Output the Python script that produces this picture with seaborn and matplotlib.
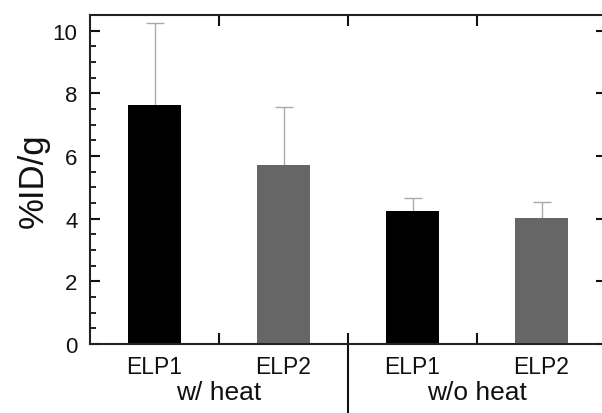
import matplotlib
matplotlib.use("Agg")
import matplotlib.pyplot as plt
import matplotlib.transforms as mtransforms
from matplotlib.ticker import MultipleLocator, FixedLocator, NullFormatter
import seaborn as sns
import pandas as pd

# Data
conditions = ["w/ heat", "w/ heat", "w/o heat", "w/o heat"]
polymers = ["ELP1", "ELP2", "ELP1", "ELP2"]
values = [7.62, 5.70, 4.25, 4.03]
errors = [2.62, 1.87, 0.42, 0.50]
group_labels = ["w/ heat", "w/o heat"]

sns.set_style("ticks")
plt.rcParams["font.family"] = ["Liberation Sans", "DejaVu Sans"]

keys = [f"{p} {c}" for p, c in zip(polymers, conditions)]
df = pd.DataFrame({"key": keys, "value": values})
bar_colors = ["#000000", "#666666", "#000000", "#666666"]

fig = plt.figure(figsize=(6.02, 4.14), dpi=100)
ax = fig.add_axes([90 / 602, 69 / 414, 516 / 602, 329 / 414])

sns.barplot(data=df, x="key", y="value", order=keys, hue="key", hue_order=keys,
            palette=bar_colors, width=0.41, errorbar=None, legend=False,
            saturation=1, ax=ax, edgecolor="none")
for p in ax.patches:
    p.set_zorder(2)

xpos = list(range(len(values)))
eb = ax.errorbar(xpos, values, yerr=[[0] * len(errors), errors], fmt="none",
                 ecolor="#aaaaaa", elinewidth=1.0, capsize=6.5, capthick=1.0,
                 zorder=1)
# hide the lower caps (only upper error shown)
caplines = eb[1]
if len(caplines) == 2:
    caplines[0].set_visible(False)

ax.set_xlim(-0.5, 3.5)
ax.set_ylim(0, 10.5)

# y ticks
ax.yaxis.set_major_locator(FixedLocator([0, 2, 4, 6, 8, 10]))
ax.yaxis.set_minor_locator(MultipleLocator(0.5))
ax.tick_params(axis="y", which="major", direction="in", length=7.5, width=1.5,
               labelsize=16, pad=9, left=True, right=True, colors="#111111")
ax.tick_params(axis="y", which="minor", direction="in", length=4.5, width=1.3,
               left=True, right=False, colors="#111111")

# x ticks: separators as major ticks, labels on minor ticks
ax.xaxis.set_major_locator(FixedLocator([0.5, 1.5, 2.5]))
ax.xaxis.set_major_formatter(NullFormatter())
ax.xaxis.set_minor_locator(FixedLocator(xpos))
ax.set_xticklabels(polymers, minor=True)
ax.tick_params(axis="x", which="major", direction="in", length=8, width=1.5,
               top=True, bottom=True, colors="#111111")
ax.tick_params(axis="x", which="minor", length=0, labelsize=16.5, pad=8,
               colors="#111111")

for s in ax.spines.values():
    s.set_visible(True)
    s.set_linewidth(1.5)
    s.set_color("#222222")
    s.set_zorder(3)

ax.set_xlabel("")
ax.set_ylabel("%ID/g", fontsize=25, labelpad=2, color="#111111")

trans = mtransforms.blended_transform_factory(ax.transData, ax.transAxes)
ax.text(0.5, -0.146, group_labels[0], transform=trans, ha="center", va="center",
        fontsize=19, color="#111111")
ax.text(2.5, -0.146, group_labels[1], transform=trans, ha="center", va="center",
        fontsize=19, color="#111111")
ax.plot([1.5, 1.5], [0, -0.25], transform=trans, color="#111111", lw=1.5,
        clip_on=False)

fig.savefig("out.png", dpi=100)
